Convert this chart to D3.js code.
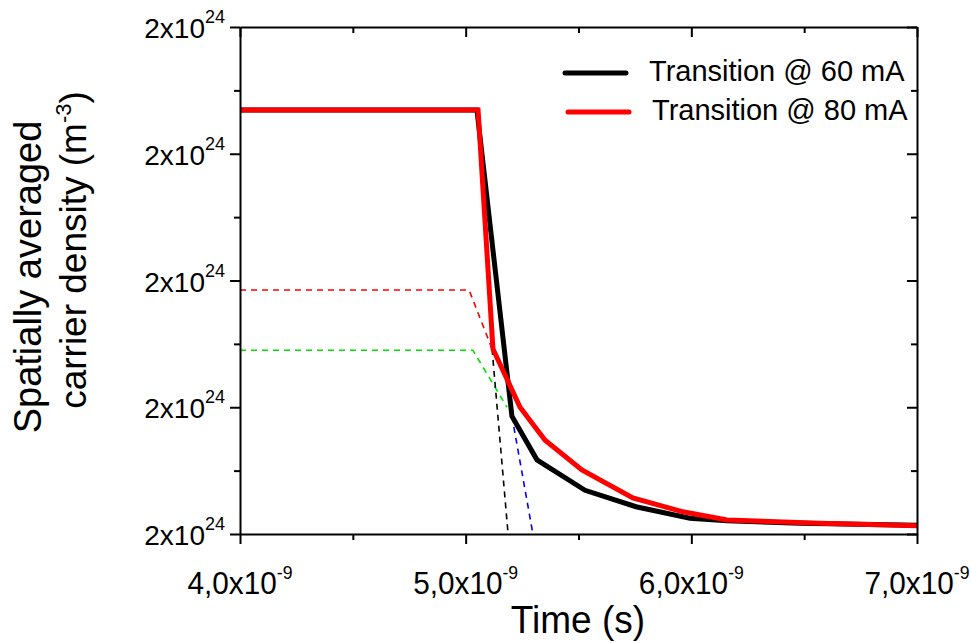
<!DOCTYPE html>
<html>
<head>
<meta charset="utf-8">
<script src="https://cdn.jsdelivr.net/npm/d3@7"></script>
<style>
html,body{margin:0;padding:0;background:#fff;}
text{font-family:"Liberation Sans",Arial,sans-serif;fill:#000;}
</style>
</head>
<body>
<svg id="chart" width="971" height="643"></svg>
<script>
// ---- data ----
const xMajorTicks = [4.0e-9, 5.0e-9, 6.0e-9, 7.0e-9];
const xMinorTicks = [4.5e-9, 5.5e-9, 6.5e-9];
const xTickLabels = ["4,0x10", "5,0x10", "6,0x10", "7,0x10"];
const xTickExp = "-9";
const yMajorTicks = [1.6e24, 1.8e24, 2.0e24, 2.2e24, 2.4e24];
const yMinorTicks = [1.7e24, 1.9e24, 2.1e24, 2.3e24];
const yTickLabels = ["2x10", "2x10", "2x10", "2x10", "2x10"];
const yTickExp = "24";

const seriesNames = ["Transition @ 60 mA", "Transition @ 80 mA"];
const timeBlack = [4.0e-9, 5.05e-9, 5.205e-9, 5.316e-9, 5.529e-9, 5.755e-9, 5.994e-9, 6.158e-9, 6.481e-9, 7.0e-9];
const densBlack = [2.269e24, 2.269e24, 1.786e24, 1.717e24, 1.669e24, 1.643e24, 1.625e24, 1.621e24, 1.617e24, 1.614e24];
const timeRed = [4.0e-9, 5.055e-9, 5.121e-9, 5.241e-9, 5.352e-9, 5.515e-9, 5.741e-9, 5.963e-9, 6.158e-9, 6.570e-9, 7.0e-9];
const densRed = [2.269e24, 2.269e24, 1.892e24, 1.800e24, 1.748e24, 1.701e24, 1.657e24, 1.635e24, 1.622e24, 1.617e24, 1.613e24];

const timeRedDash = [4.0e-9, 5.015e-9, 5.117e-9];
const densRedDash = [1.985e24, 1.985e24, 1.892e24];
const timeGreenDash = [4.0e-9, 5.032e-9, 5.183e-9];
const densGreenDash = [1.890e24, 1.890e24, 1.800e24];
const timeBlackDash = [5.117e-9, 5.188e-9];
const densBlackDash = [1.892e24, 1.600e24];
const timeBlueDash = [5.205e-9, 5.298e-9];
const densBlueDash = [1.786e24, 1.600e24];

// ---- layout ----
const L = 240, R = 917, T = 27, B = 534;
const svg = d3.select("#chart");
const x = d3.scaleLinear().domain([4e-9, 7e-9]).range([L, R]);
const y = d3.scaleLinear().domain([1.6e24, 2.4e24]).range([B, T]);

const zip = (a, b) => a.map((v, i) => [v, b[i]]);
const line = d3.line().x(d => x(d[0])).y(d => y(d[1]));

svg.append("defs").append("clipPath").attr("id", "clip")
  .append("rect").attr("x", L).attr("y", T).attr("width", R - L).attr("height", B - T);

const plot = svg.append("g").attr("clip-path", "url(#clip)");

const dashed = [
  [timeRedDash, densRedDash, "#ff0000"],
  [timeGreenDash, densGreenDash, "#00e000"],
  [timeBlackDash, densBlackDash, "#000000"],
  [timeBlueDash, densBlueDash, "#0000ff"]
];
dashed.forEach(([t, d, c]) => {
  plot.append("path").datum(zip(t, d)).attr("d", line)
    .attr("fill", "none").attr("stroke", c).attr("stroke-width", 1.6)
    .attr("stroke-dasharray", "6,5");
});

plot.append("path").datum(zip(timeBlack, densBlack)).attr("d", line)
  .attr("fill", "none").attr("stroke", "#000").attr("stroke-width", 5)
  .attr("stroke-linejoin", "miter");
plot.append("path").datum(zip(timeRed, densRed)).attr("d", line)
  .attr("fill", "none").attr("stroke", "#ff0000").attr("stroke-width", 5)
  .attr("stroke-linejoin", "miter");

// ---- axes ----
function styleAxis(g) {
  g.select(".domain").attr("stroke", "#000").attr("stroke-width", 2);
  g.selectAll(".tick line").attr("stroke", "#000").attr("stroke-width", 2);
  g.selectAll(".tick text").remove();
}
// bottom
svg.append("g").attr("transform", `translate(0,${B})`)
  .call(d3.axisBottom(x).tickValues(xMajorTicks).tickSize(10).tickSizeOuter(0)).call(styleAxis);
svg.append("g").attr("transform", `translate(0,${B})`)
  .call(d3.axisBottom(x).tickValues(xMinorTicks).tickSize(6).tickSizeOuter(0)).call(styleAxis)
  .select(".domain").remove();
// top (inward)
svg.append("g").attr("transform", `translate(0,${T})`)
  .call(d3.axisBottom(x).tickValues(xMajorTicks).tickSize(10).tickSizeOuter(0)).call(styleAxis);
svg.append("g").attr("transform", `translate(0,${T})`)
  .call(d3.axisBottom(x).tickValues(xMinorTicks).tickSize(6).tickSizeOuter(0)).call(styleAxis)
  .select(".domain").remove();
// left
svg.append("g").attr("transform", `translate(${L},0)`)
  .call(d3.axisLeft(y).tickValues(yMajorTicks).tickSize(10).tickSizeOuter(0)).call(styleAxis);
svg.append("g").attr("transform", `translate(${L},0)`)
  .call(d3.axisLeft(y).tickValues(yMinorTicks).tickSize(6).tickSizeOuter(0)).call(styleAxis)
  .select(".domain").remove();
// right (inward)
svg.append("g").attr("transform", `translate(${R},0)`)
  .call(d3.axisLeft(y).tickValues(yMajorTicks).tickSize(10).tickSizeOuter(0)).call(styleAxis);
svg.append("g").attr("transform", `translate(${R},0)`)
  .call(d3.axisLeft(y).tickValues(yMinorTicks).tickSize(6).tickSizeOuter(0)).call(styleAxis)
  .select(".domain").remove();

// tick labels
xMajorTicks.forEach((v, i) => {
  const t = svg.append("text").attr("transform", `translate(${x(v)},594) scale(0.93,1)`)
    .attr("text-anchor", "middle").attr("font-size", 32);
  t.append("tspan").text(xTickLabels[i]);
  t.append("tspan").attr("font-size", 19).attr("dy", -15).text(xTickExp);
});
yMajorTicks.forEach((v, i) => {
  const t = svg.append("text").attr("x", 225).attr("y", y(v) + 11)
    .attr("text-anchor", "end").attr("font-size", 28);
  t.append("tspan").text(yTickLabels[i]);
  t.append("tspan").attr("font-size", 18).attr("dy", -15).text(yTickExp);
});

// axis titles
svg.append("text").attr("transform", "translate(578,633) scale(0.95,1)").attr("text-anchor", "middle")
  .attr("font-size", 39).text("Time (s)");
const yt = svg.append("g").attr("transform", `rotate(-90)`);
yt.append("text").attr("x", -277).attr("y", 41).attr("text-anchor", "middle")
  .attr("font-size", 38).text("Spatially averaged");
const yt2 = yt.append("text").attr("x", -250).attr("y", 86).attr("text-anchor", "middle")
  .attr("font-size", 37);
yt2.append("tspan").text("carrier density (m");
yt2.append("tspan").attr("font-size", 22).attr("dy", -15).text("-3");
yt2.append("tspan").attr("dy", 15).text(")");

// legend
const legendColors = ["#000000", "#ff0000"];
const legY = [73, 112];
const legX = [565, 568];
seriesNames.forEach((name, i) => {
  svg.append("line").attr("x1", legX[i]).attr("x2", legX[i] + 61)
    .attr("y1", legY[i]).attr("y2", legY[i])
    .attr("stroke", legendColors[i]).attr("stroke-width", 5).attr("stroke-linecap", "round");
  svg.append("text").attr("x", legX[i] + 84).attr("y", legY[i] + 8)
    .attr("font-size", 29).text(name);
});
</script>
</body>
</html>
